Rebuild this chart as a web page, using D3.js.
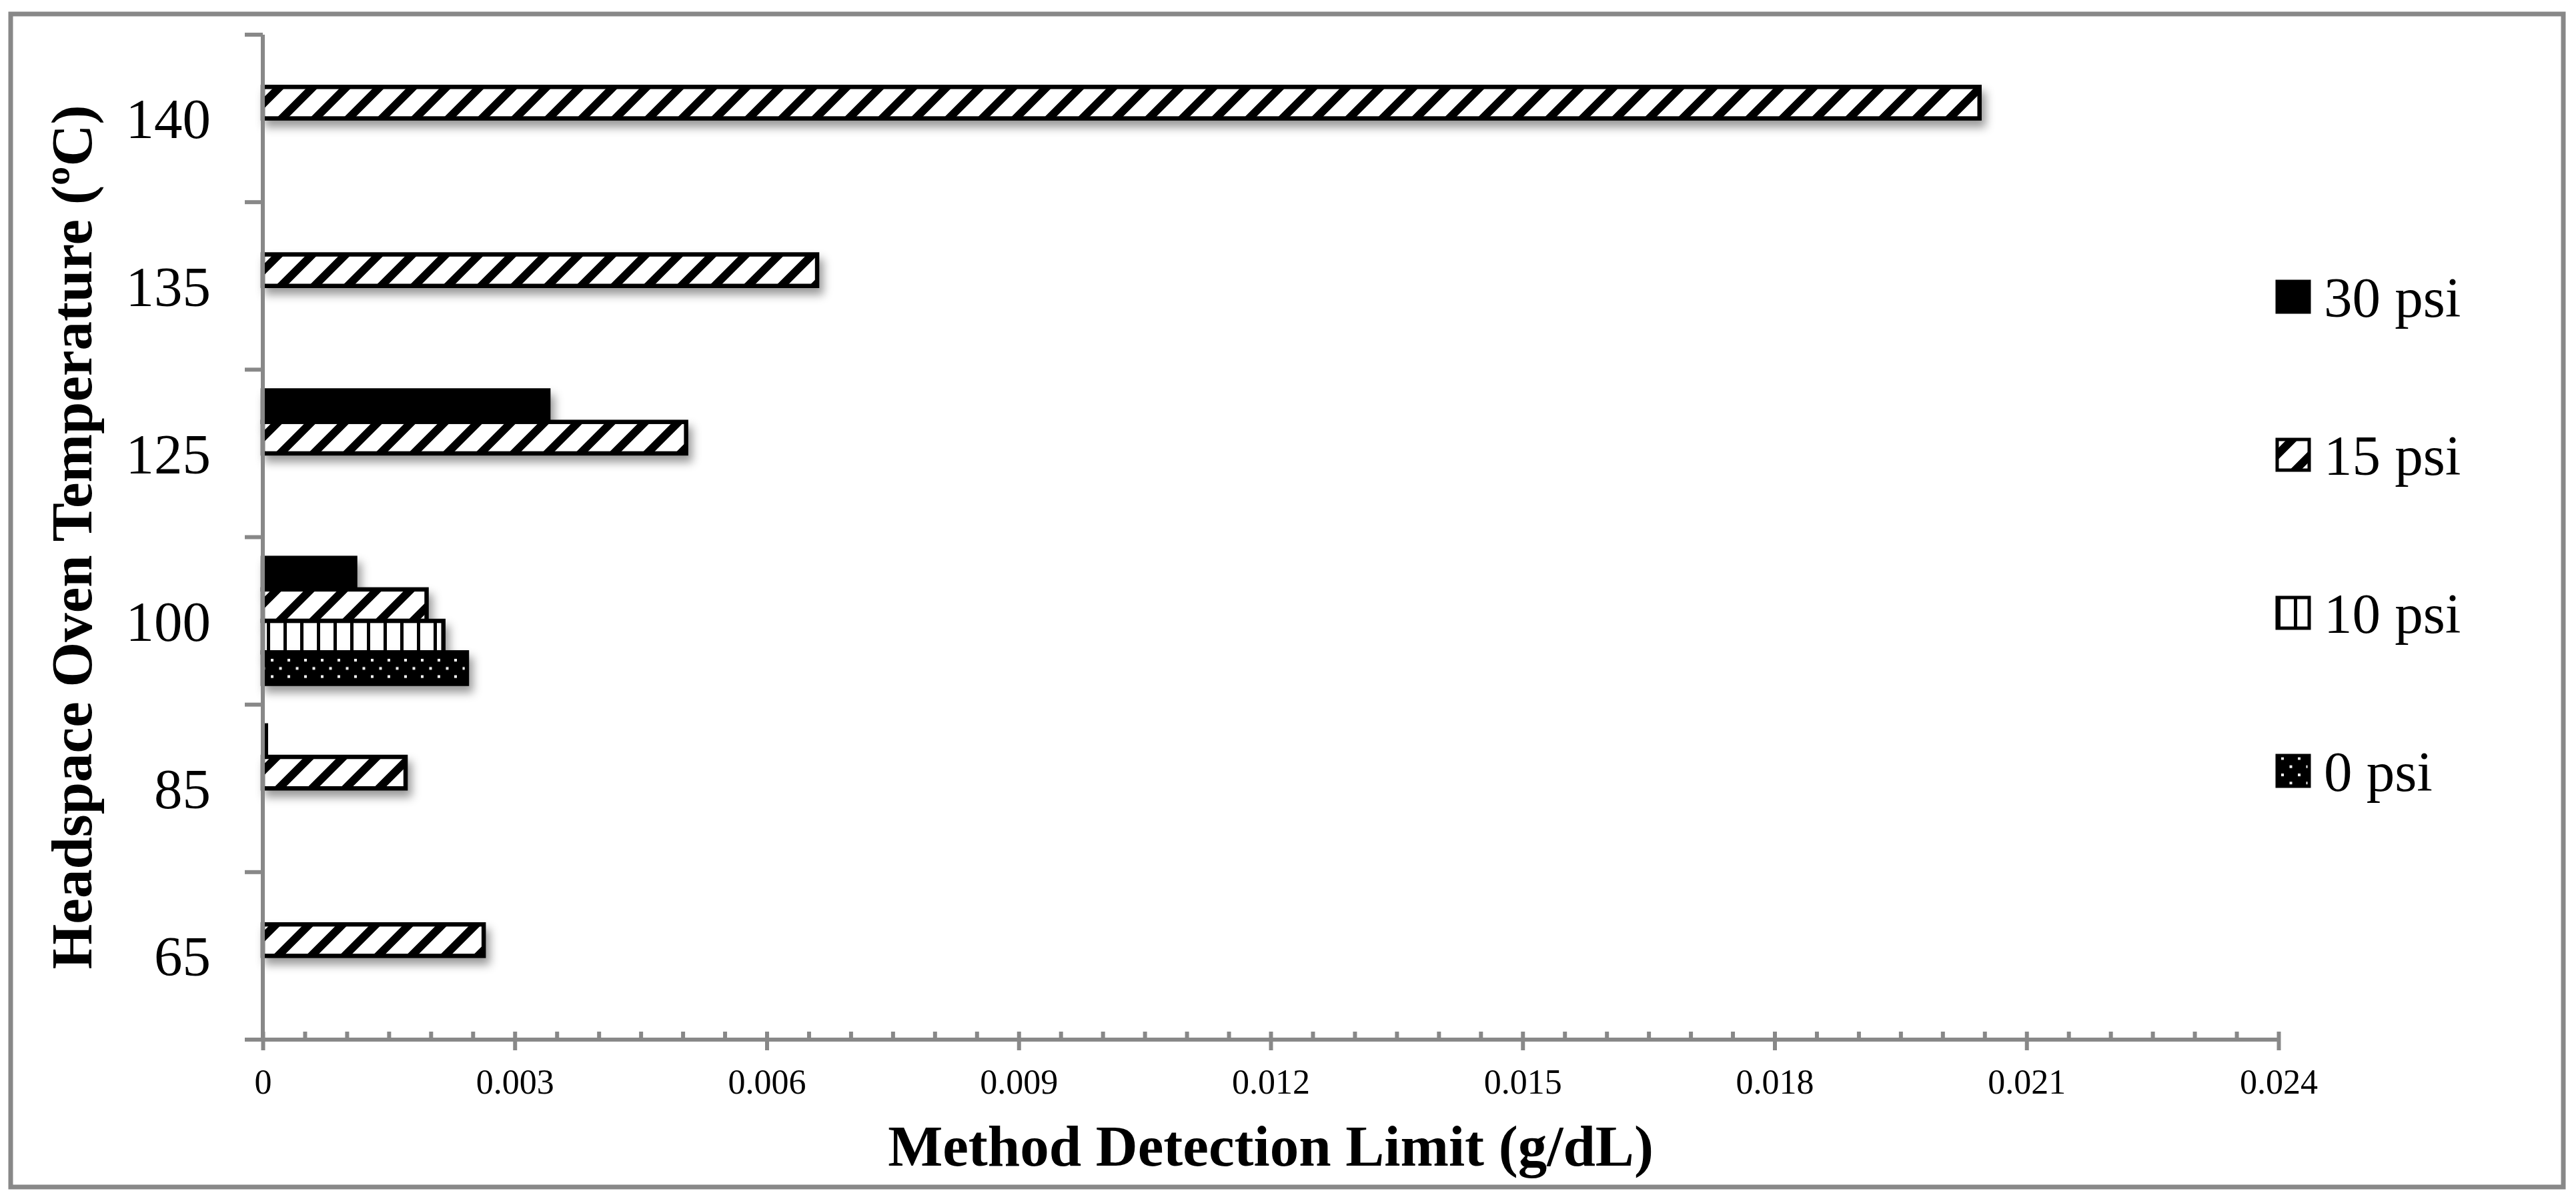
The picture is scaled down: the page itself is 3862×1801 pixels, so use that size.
<!DOCTYPE html>
<html>
<head>
<meta charset="utf-8">
<script src="https://cdn.jsdelivr.net/npm/d3@7"></script>
<style>
  html, body { margin: 0; padding: 0; background: #fff; }
  svg { display: block; }
  text { font-family: "Liberation Serif", "Times New Roman", serif; fill: #000; }
</style>
</head>
<body>
<script>
// ---- data ----
const categories = ["140", "135", "125", "100", "85", "65"]; // top to bottom
const seriesNames = ["30 psi", "15 psi", "10 psi", "0 psi"];   // top to bottom within a group
const psi30 = [null, null, 0.0034, 0.0011, 0.00005, null];
const psi15 = [0.02044, 0.0066, 0.00504, 0.00195, 0.0017, 0.00263];
const psi10 = [null, null, null, 0.00215, null, null];
const psi0  = [null, null, null, 0.00243, null, null];
const xTicks = [0, 0.003, 0.006, 0.009, 0.012, 0.015, 0.018, 0.021, 0.024];
const xTitle = "Method Detection Limit (g/dL)";
const yTitle = "Headspace Oven Temperature (ºC)";

const seriesValues = { "30 psi": psi30, "15 psi": psi15, "10 psi": psi10, "0 psi": psi0 };
const seriesFill = { "30 psi": "#000", "15 psi": "url(#diag)", "10 psi": "url(#vert)", "0 psi": "url(#dots)" };

const W = 3862, H = 1801;
const svg = d3.select("body").append("svg").attr("width", W).attr("height", H);
svg.append("rect").attr("width", W).attr("height", H).attr("fill", "#fff");

const defs = svg.append("defs");
// wide upward diagonal
const pd = defs.append("pattern").attr("id", "diag").attr("patternUnits", "userSpaceOnUse")
  .attr("width", 50).attr("height", 50);
pd.append("rect").attr("width", 50).attr("height", 50).attr("fill", "#fff");
pd.append("path").attr("d", "M-25,25L25,-25M0,50L50,0M25,75L75,25")
  .attr("stroke", "#000").attr("stroke-width", 12);
// vertical lines
const pv = defs.append("pattern").attr("id", "vert").attr("patternUnits", "userSpaceOnUse")
  .attr("width", 25).attr("height", 25);
pv.append("rect").attr("width", 25).attr("height", 25).attr("fill", "#fff");
pv.append("rect").attr("x", 0).attr("width", 5).attr("height", 25).attr("fill", "#000");
// dotted (black with white dots)
const pdots = defs.append("pattern").attr("id", "dots").attr("patternUnits", "userSpaceOnUse")
  .attr("width", 25).attr("height", 24.6);
pdots.append("rect").attr("width", 25).attr("height", 24.6).attr("fill", "#000");
pdots.append("rect").attr("x", 6).attr("y", 4).attr("width", 4).attr("height", 4).attr("fill", "#fff");
pdots.append("rect").attr("x", 18.5).attr("y", 16.3).attr("width", 4).attr("height", 4).attr("fill", "#fff");

const flt = defs.append("filter").attr("id", "shadow")
  .attr("x", "-10%").attr("y", "-60%").attr("width", "130%").attr("height", "260%");
flt.append("feDropShadow").attr("dx", 6).attr("dy", 10).attr("stdDeviation", 7)
  .attr("flood-color", "#000").attr("flood-opacity", 0.4);

// outer border
svg.append("rect").attr("x", 16).attr("y", 21).attr("width", 3827).attr("height", 1759)
  .attr("fill", "none").attr("stroke", "#888").attr("stroke-width", 7);

// scales
const plotL = 394, plotR = 3416, plotT = 52, plotB = 1559;
const x = d3.scaleLinear().domain([0, 0.024]).range([plotL, plotR]);
const y = d3.scaleBand().domain(categories).range([plotT, plotB]).paddingInner(0).paddingOuter(0);
const ys = d3.scaleBand().domain(seriesNames).range([0, y.bandwidth()]).paddingInner(0).paddingOuter(0.66);

// bars
const barData = [];
categories.forEach((c, i) => {
  seriesNames.forEach(s => {
    const v = seriesValues[s][i];
    if (v != null) barData.push({ c, s, v });
  });
});
svg.append("g").selectAll("rect").data(barData).join("rect")
  .attr("x", x(0))
  .attr("y", d => y(d.c) + ys(d.s))
  .attr("width", d => x(d.v) - x(0))
  .attr("height", ys.bandwidth())
  .attr("fill", d => seriesFill[d.s])
  .attr("stroke", "#000")
  .attr("stroke-width", 6.5)
  .attr("filter", "url(#shadow)");

// y axis
const gy = svg.append("g");
gy.append("line").attr("x1", plotL).attr("x2", plotL).attr("y1", plotT).attr("y2", plotB)
  .attr("stroke", "#888").attr("stroke-width", 6);
const boundaries = categories.map(c => y(c)).concat([plotB]);
gy.selectAll("line.tick").data(boundaries).join("line").attr("class", "tick")
  .attr("x1", plotL - 27).attr("x2", plotL).attr("y1", d => d).attr("y2", d => d)
  .attr("stroke", "#888").attr("stroke-width", 6);
gy.selectAll("text").data(categories).join("text")
  .attr("x", 316).attr("y", d => y(d) + y.bandwidth() / 2).attr("dy", "0.35em")
  .attr("text-anchor", "end").attr("font-size", 85).text(d => d);

// x axis
const minorTicks = d3.range(0, 0.02401, 0.0005);
const gxMinor = svg.append("g").attr("transform", `translate(0,${plotB})`)
  .call(d3.axisTop(x).tickValues(minorTicks).tickSize(12).tickFormat(""));
const gx = svg.append("g").attr("transform", `translate(0,${plotB})`)
  .call(d3.axisBottom(x).tickValues(xTicks).tickSize(16).tickPadding(28)
    .tickFormat(d => d === 0 ? "0" : d3.format(".3f")(d)));
[gxMinor, gx].forEach(g => {
  g.select(".domain").remove();
  g.selectAll(".tick line").attr("stroke", "#888").attr("stroke-width", 6);
});
gx.selectAll(".tick text").attr("font-size", 52).attr("font-family", "Liberation Serif").attr("fill", "#000");
svg.append("line").attr("x1", plotL - 3).attr("x2", plotR + 3).attr("y1", plotB).attr("y2", plotB)
  .attr("stroke", "#888").attr("stroke-width", 6);

// axis titles
svg.append("text").attr("x", (plotL + plotR) / 2).attr("y", 1748)
  .attr("text-anchor", "middle").attr("font-size", 87).attr("font-weight", "bold").text(xTitle);
svg.append("text").attr("transform", `translate(137,${(plotT + plotB) / 2}) rotate(-90)`)
  .attr("text-anchor", "middle").attr("font-size", 87).attr("font-weight", "bold").text(yTitle);

// legend
const legendY = d3.scalePoint().domain(seriesNames).range([445, 1156]);
const lg = svg.append("g").selectAll("g").data(seriesNames).join("g")
  .attr("transform", d => `translate(3414,${legendY(d)})`);
lg.append("rect").attr("x", 0).attr("y", -23).attr("width", 48).attr("height", 46)
  .attr("fill", d => seriesFill[d]).attr("stroke", "#000").attr("stroke-width", 5);
lg.append("text").attr("x", 70).attr("dy", "0.35em").attr("font-size", 85).text(d => d);
</script>
</body>
</html>
